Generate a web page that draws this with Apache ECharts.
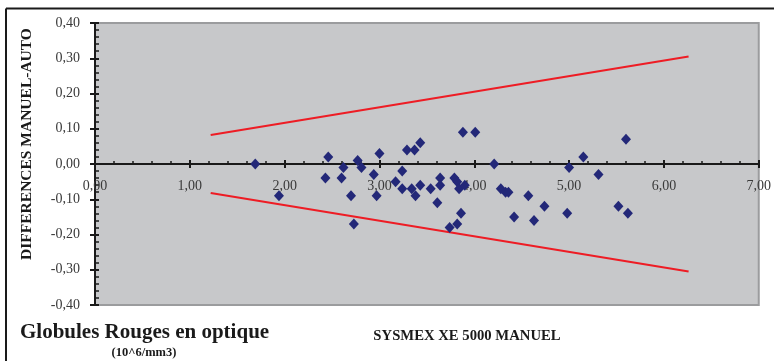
<!DOCTYPE html>
<html>
<head>
<meta charset="utf-8">
<script src="https://cdn.jsdelivr.net/npm/echarts@6/dist/echarts.min.js"></script>
<style>
  html, body { margin: 0; padding: 0; background: #ffffff; }
  #chart { width: 774px; height: 361px; }
</style>
</head>
<body>
<div id="chart"></div>
<script>
// Red cell count (10^6/mm3) and manual minus automated difference
const rbcCount = [
  1.69, 1.94, 2.46, 2.43, 2.62, 2.60, 2.70, 2.73, 2.77, 2.81,
  3.00, 2.94, 2.97, 3.29, 3.37, 3.43, 3.24, 3.17, 3.24, 3.34,
  3.38, 3.43, 3.54, 3.64, 3.64, 3.61, 3.79, 3.82, 3.84, 3.90,
  3.86, 3.82, 3.74, 3.88, 4.01, 4.21, 4.28, 4.33, 4.36, 4.42,
  4.57, 4.63, 4.74, 4.98, 5.00, 5.15, 5.31, 5.52, 5.62, 5.60
];
const difference = [
  0.00, -0.09, 0.02, -0.04, -0.01, -0.04, -0.09, -0.17, 0.01, -0.01,
  0.03, -0.03, -0.09, 0.04, 0.04, 0.06, -0.02, -0.05, -0.07, -0.07,
  -0.09, -0.06, -0.07, -0.04, -0.06, -0.11, -0.04, -0.05, -0.07, -0.06,
  -0.14, -0.17, -0.18, 0.09, 0.09, 0.00, -0.07, -0.08, -0.08, -0.15,
  -0.09, -0.16, -0.12, -0.14, -0.01, 0.02, -0.03, -0.12, -0.14, 0.07
];

// Acceptance limits
const limitX = [1.22, 6.26];
const upperLimit = [0.082, 0.305];
const lowerLimit = [-0.082, -0.305];

// Axis settings
const xMin = 0, xMax = 7, xStep = 1;
const yMin = -0.4, yMax = 0.4, yStep = 0.1;

const yTitle = 'DIFFERENCES MANUEL-AUTO';
const bottomTitle = 'Globules Rouges en optique';
const unitText = '(10^6/mm3)';
const instrumentText = 'SYSMEX XE 5000 MANUEL';

const serif = '"Liberation Serif", "Times New Roman", serif';
const fmt = v => v.toFixed(2).replace('.', ',');

const points = rbcCount.map((x, i) => [x, difference[i]]);
const upperLine = limitX.map((x, i) => [x, upperLimit[i]]);
const lowerLine = limitX.map((x, i) => [x, lowerLimit[i]]);

// Plot box
const gridLeft = 95, gridRight = 12, gridTop = 23, gridBottom = 56;
const chartH = 361;
const plotH = chartH - gridTop - gridBottom;
// Shift the horizontal axis from the bottom of the box up to the zero line
const zeroShift = -plotH * (0 - yMin) / (yMax - yMin);

const axisLineStyle = { color: '#1a1a1a', width: 2 };

const chart = echarts.init(document.getElementById('chart'), null, { renderer: 'canvas' });
chart.setOption({
  animation: false,
  backgroundColor: '#ffffff',
  grid: {
    left: gridLeft, right: gridRight, top: gridTop, bottom: gridBottom,
    show: true,
    backgroundColor: '#c7c8ca',
    borderColor: '#9b9c9e',
    borderWidth: 2
  },
  xAxis: [
    {
      type: 'value', min: xMin, max: xMax, interval: xStep,
      position: 'bottom', offset: zeroShift,
      axisLine: { show: true, onZero: false, lineStyle: axisLineStyle },
      axisTick: { show: true, inside: true, length: 4, lineStyle: { color: '#1a1a1a', width: 2 } },
      minorTick: { show: true, splitNumber: 5, length: 3, lineStyle: { color: '#1a1a1a', width: 1.5 } },
      splitLine: { show: false },
      axisLabel: {
        margin: 15, color: '#3a3a3a', fontFamily: serif, fontSize: 14,
        formatter: fmt
      }
    },
    {
      type: 'value', min: xMin, max: xMax, interval: xStep,
      position: 'bottom', offset: zeroShift,
      axisLine: { show: true, onZero: false, lineStyle: axisLineStyle },
      axisTick: { show: true, inside: false, length: 4, lineStyle: { color: '#1a1a1a', width: 2 } },
      splitLine: { show: false },
      axisLabel: { show: false }
    }
  ],
  yAxis: [
    {
      type: 'value', min: yMin, max: yMax, interval: yStep,
      position: 'left',
      axisLine: { show: true, onZero: false, lineStyle: axisLineStyle },
      axisTick: { show: true, inside: true, length: 4, lineStyle: { color: '#1a1a1a', width: 2 } },
      minorTick: { show: true, splitNumber: 5, length: 4, lineStyle: { color: '#1a1a1a', width: 1.5 } },
      splitLine: { show: false },
      axisLabel: {
        margin: 15, color: '#3a3a3a', fontFamily: serif, fontSize: 14,
        formatter: fmt
      }
    },
    {
      type: 'value', min: yMin, max: yMax, interval: yStep,
      position: 'left',
      axisLine: { show: true, onZero: false, lineStyle: axisLineStyle },
      axisTick: { show: true, inside: false, length: 5, lineStyle: { color: '#1a1a1a', width: 2 } },
      splitLine: { show: false },
      axisLabel: { show: false }
    }
  ],
  series: [
    {
      type: 'line', data: upperLine, xAxisIndex: 0, yAxisIndex: 0,
      symbol: 'none', lineStyle: { color: '#ee1c24', width: 2 }, z: 3
    },
    {
      type: 'line', data: lowerLine, xAxisIndex: 0, yAxisIndex: 0,
      symbol: 'none', lineStyle: { color: '#ee1c24', width: 2 }, z: 3
    },
    {
      type: 'scatter', data: points, xAxisIndex: 0, yAxisIndex: 0,
      symbol: 'diamond', symbolSize: [10, 11],
      itemStyle: { color: '#232878', opacity: 1 }, z: 4
    }
  ],
  graphic: [
    { type: 'line', shape: { x1: 6, y1: 8.5, x2: 774, y2: 8.5 }, style: { stroke: '#1a1a1a', lineWidth: 2 } },
    { type: 'line', shape: { x1: 6, y1: 8.5, x2: 6, y2: 361 }, style: { stroke: '#1a1a1a', lineWidth: 2 } },
    {
      type: 'text', x: 27, y: 144, rotation: Math.PI / 2,
      style: {
        text: yTitle, fill: '#1a1a1a', font: 'bold 15.5px ' + serif,
        textAlign: 'center', textVerticalAlign: 'middle'
      }
    },
    {
      type: 'text', x: 20, y: 333,
      style: {
        text: bottomTitle, fill: '#1a1a1a', font: 'bold 21px ' + serif,
        textAlign: 'left', textVerticalAlign: 'middle'
      }
    },
    {
      type: 'text', x: 144, y: 353,
      style: {
        text: unitText, fill: '#1a1a1a', font: 'bold 12.5px ' + serif,
        textAlign: 'center', textVerticalAlign: 'middle'
      }
    },
    {
      type: 'text', x: 467, y: 336,
      style: {
        text: instrumentText, fill: '#1a1a1a', font: 'bold 14.7px ' + serif,
        textAlign: 'center', textVerticalAlign: 'middle'
      }
    }
  ]
});
</script>
</body>
</html>
